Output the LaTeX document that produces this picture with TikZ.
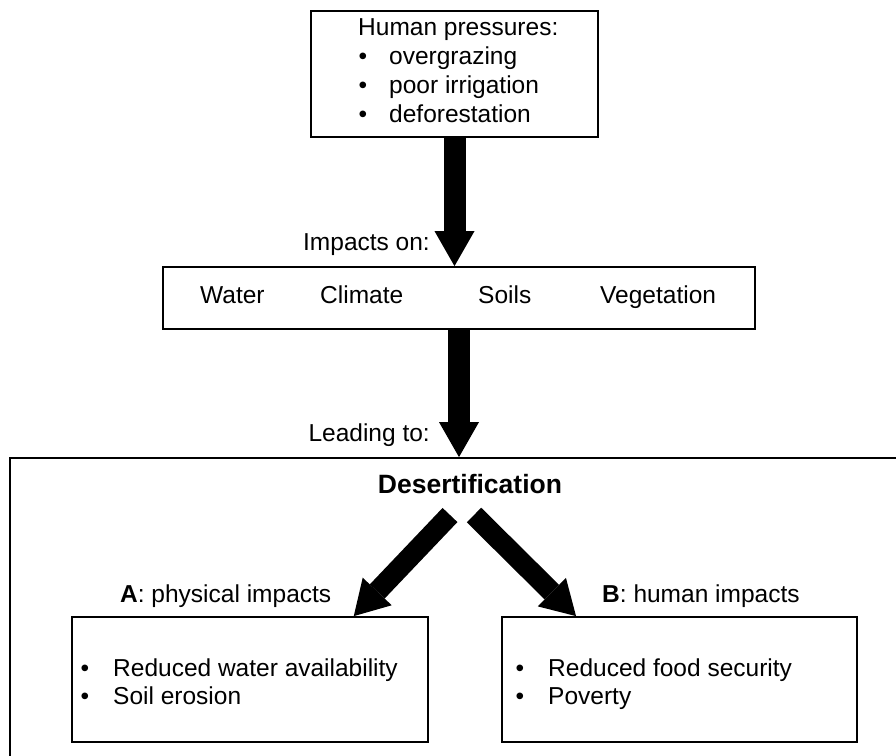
\documentclass[tikz,border=0pt]{standalone}
\usepackage{fontspec}
\setmainfont{Liberation Sans}
\usetikzlibrary{arrows.meta,calc}
\tikzset{
  box/.style={draw, line width=1.8pt, inner sep=0pt},
  lbl/.style={inner sep=0pt, anchor=base west},
  dot/.style={inner sep=0pt, anchor=base},
  fatarrow/.style={line width=22pt, -{Triangle[width=40pt,length=35pt,line width=0pt]}},
  slantarrow/.style={line width=20.5pt, -{Triangle[width=40pt,length=34pt,line width=0pt]}},
}

\begin{document}
\begin{tikzpicture}[x=1pt, y=-1pt, every node/.style={font=\fontsize{24.5pt}{29pt}\selectfont}]
		\useasboundingbox (0,0) rectangle (896,755);
		\clip (0,0) rectangle (896,755);
		%%%%% START %%%%%
		
		\node[box, minimum width=910pt, minimum height=322pt] (outer) at (465,619) {};
		
		\node[box, minimum width=287pt, minimum height=126pt] (press) at (454.5,74) {};
		\node[lbl] (presstitle) at (358,35) {Human pressures:};
		\foreach \t [count=\i] in {overgrazing, poor irrigation, deforestation} {
			\node[dot] (pressdot\i) at (363,{35+29*\i}) {\textbullet};
			\node[lbl] (pressitem\i) at (389,{35+29*\i}) {\t};
		}
		
		\node[box, minimum width=592pt, minimum height=62pt] (mid) at (459,298) {};
		\foreach \x/\t in {200/Water, 320/Climate, 478/Soils, 600/Vegetation}
			\node[lbl] (mid\t) at (\x,303) {\t};
		
		\node[inner sep=0pt, anchor=base east] (impacts) at (430,250) {Impacts on:};
		\draw[fatarrow] (press.south) -- (press.south |- mid.north);
		
		\node[inner sep=0pt, anchor=base east] (leading) at (430,441) {Leading to:};
		\draw[fatarrow] (mid.south) -- (mid.south |- outer.north);
		
		\node[inner sep=0pt, anchor=base, font=\bfseries\fontsize{26.5pt}{30pt}\selectfont] (desert) at (470,493) {Desertification};
		
		\node[box, minimum width=356pt, minimum height=125pt] (lbox) at (250,679.5) {};
		\node[box, minimum width=355pt, minimum height=125pt] (rbox) at (679.5,679.5) {};
		
		\coordinate (lfrom) at (450,515);
		\coordinate (rfrom) at (474,515);
		\draw[slantarrow] (lfrom) -- ($(lbox.north east)!0.21!(lbox.north west)$);
		\draw[slantarrow] (rfrom) -- ($(rbox.north west)!0.21!(rbox.north east)$);
		
		\node[lbl] (labA) at (120,602) {\textbf{A}: physical impacts};
		\node[lbl] (labB) at (602,602) {\textbf{B}: human impacts};
		
		\foreach \t [count=\i] in {Reduced water availability, Soil erosion} {
			\node[dot] (ldot\i) at (85,{648+28*\i}) {\textbullet};
			\node[lbl] (litem\i) at (113,{648+28*\i}) {\t};
		}
		\foreach \t [count=\i] in {Reduced food security, Poverty} {
			\node[dot] (rdot\i) at (520,{648+28*\i}) {\textbullet};
			\node[lbl] (ritem\i) at (548,{648+28*\i}) {\t};
		}
		
		%%%%% END %%%%%
	\end{tikzpicture}
\end{document}
